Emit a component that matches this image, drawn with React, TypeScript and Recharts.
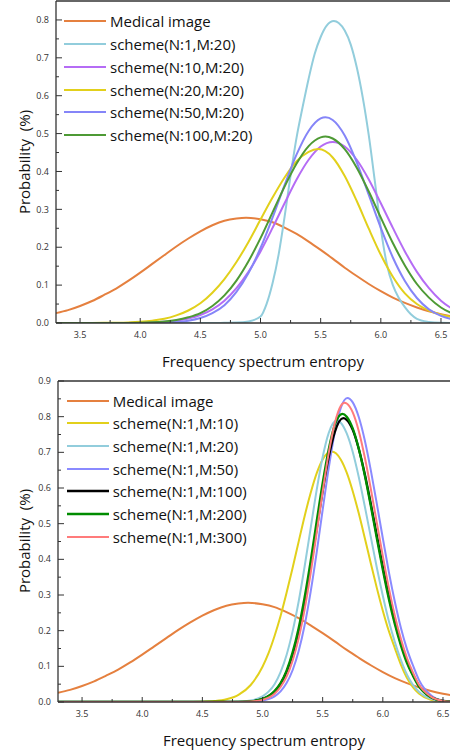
import { LineChart, Line, XAxis, YAxis, ReferenceLine } from 'recharts';

type Pt = [number, number];

const FONT = '"Open Sans", sans-serif';
const AXIS = '#333';

const xTicks = [3.5, 3.75, 4, 4.25, 4.5, 4.75, 5, 5.25, 5.5, 5.75, 6, 6.25, 6.5];
const topYTicks = [0, 0.05, 0.1, 0.15, 0.2, 0.25, 0.3, 0.35, 0.4, 0.45, 0.5, 0.55, 0.6, 0.65, 0.7, 0.75, 0.8];
const bottomYTicks = [0, 0.05, 0.1, 0.15, 0.2, 0.25, 0.3, 0.35, 0.4, 0.45, 0.5, 0.55, 0.6, 0.65, 0.7, 0.75, 0.8, 0.85, 0.9];

// medical image curve (same in both panels)
const medicalImage: Pt[] = [
  [3.3, 0.026], [3.4, 0.034], [3.5, 0.045], [3.6, 0.058], [3.7, 0.074], [3.8, 0.091], [3.9, 0.111],
  [4.0, 0.133], [4.1, 0.156], [4.2, 0.179], [4.3, 0.202], [4.4, 0.223], [4.5, 0.242], [4.6, 0.258],
  [4.7, 0.27], [4.8, 0.276], [4.88, 0.278], [5.0, 0.274], [5.1, 0.266], [5.2, 0.252], [5.3, 0.235],
  [5.4, 0.215], [5.5, 0.193], [5.6, 0.17], [5.7, 0.146], [5.8, 0.124], [5.9, 0.103], [6.0, 0.084],
  [6.1, 0.067], [6.2, 0.053], [6.3, 0.041], [6.4, 0.031], [6.5, 0.023], [6.6, 0.017],
];

// top panel: M fixed at 20
const n1m20: Pt[] = [
  [3.3, 0], [4.6, 0], [4.7, 0.0005], [4.8, 0.001], [4.9, 0.004], [5.0, 0.017], [5.05, 0.05], [5.1, 0.105],
  [5.15, 0.18], [5.2, 0.28], [5.25, 0.39], [5.3, 0.49], [5.35, 0.57], [5.4, 0.645], [5.45, 0.71],
  [5.5, 0.755], [5.55, 0.785], [5.61, 0.797], [5.65, 0.792], [5.7, 0.772], [5.75, 0.735], [5.8, 0.675],
  [5.85, 0.595], [5.9, 0.495], [5.95, 0.375], [6.0, 0.25], [6.05, 0.155], [6.1, 0.1], [6.15, 0.066],
  [6.2, 0.042], [6.25, 0.023], [6.3, 0.011], [6.4, 0.003], [6.5, 0.0005], [6.6, 0],
];
const n10m20: Pt[] = [
  [3.3, 0], [3.8, 0.0001], [3.9, 0.0003], [4.0, 0.0006], [4.1, 0.0014], [4.2, 0.003], [4.3, 0.006],
  [4.4, 0.012], [4.5, 0.021], [4.6, 0.036], [4.7, 0.059], [4.8, 0.092], [4.9, 0.135], [5.0, 0.189],
  [5.1, 0.251], [5.2, 0.316], [5.3, 0.379], [5.4, 0.431], [5.5, 0.466], [5.6, 0.478], [5.7, 0.466],
  [5.8, 0.431], [5.9, 0.379], [6.0, 0.316], [6.1, 0.251], [6.2, 0.189], [6.3, 0.135], [6.4, 0.092],
  [6.5, 0.059], [6.6, 0.036],
];
const n20m20: Pt[] = [
  [3.3, 0], [3.5, 0.0001], [3.6, 0.0002], [3.7, 0.0004], [3.8, 0.0008], [3.9, 0.0016], [4.0, 0.0032],
  [4.1, 0.0062], [4.2, 0.011], [4.3, 0.02], [4.4, 0.033], [4.5, 0.052], [4.6, 0.08], [4.7, 0.116],
  [4.8, 0.161], [4.9, 0.214], [5.0, 0.273], [5.1, 0.331], [5.2, 0.384], [5.3, 0.427], [5.4, 0.452],
  [5.48, 0.459], [5.6, 0.437], [5.7, 0.388], [5.8, 0.322], [5.9, 0.249], [6.0, 0.18], [6.1, 0.122],
  [6.2, 0.078], [6.3, 0.05], [6.4, 0.033], [6.5, 0.022], [6.6, 0.015],
];
const n50m20: Pt[] = [
  [3.3, 0], [4.0, 0.0001], [4.1, 0.0004], [4.2, 0.0011], [4.3, 0.0026], [4.4, 0.006], [4.5, 0.013],
  [4.6, 0.026], [4.7, 0.047], [4.8, 0.082], [4.9, 0.132], [5.0, 0.198], [5.1, 0.278], [5.2, 0.364],
  [5.3, 0.445], [5.4, 0.507], [5.5, 0.54], [5.54, 0.543], [5.6, 0.536], [5.7, 0.495], [5.8, 0.424],
  [5.9, 0.338], [6.0, 0.251], [6.1, 0.173], [6.2, 0.111], [6.3, 0.066], [6.4, 0.036], [6.5, 0.019],
  [6.6, 0.009],
];
const n100m20: Pt[] = [
  [3.3, 0], [3.8, 0.0001], [3.9, 0.0003], [4.0, 0.0008], [4.1, 0.0018], [4.2, 0.0038], [4.3, 0.0077],
  [4.4, 0.015], [4.5, 0.026], [4.6, 0.045], [4.7, 0.073], [4.8, 0.112], [4.9, 0.163], [5.0, 0.224],
  [5.1, 0.292], [5.2, 0.36], [5.3, 0.421], [5.4, 0.467], [5.5, 0.49], [5.54, 0.492], [5.6, 0.487],
  [5.7, 0.459], [5.8, 0.41], [5.9, 0.347], [6.0, 0.278], [6.1, 0.211], [6.2, 0.152], [6.3, 0.103],
  [6.4, 0.067], [6.5, 0.041], [6.6, 0.024],
];

// bottom panel: N fixed at 1
const n1m10: Pt[] = [
  [3.3, 0], [4.3, 0], [4.4, 0.0002], [4.5, 0.0007], [4.6, 0.0025], [4.7, 0.0075], [4.8, 0.02], [4.9, 0.047],
  [5.0, 0.099], [5.05, 0.137], [5.1, 0.185], [5.15, 0.241], [5.2, 0.306], [5.25, 0.376], [5.3, 0.449],
  [5.35, 0.521], [5.4, 0.586], [5.45, 0.641], [5.5, 0.68], [5.574, 0.702], [5.65, 0.68], [5.7, 0.643],
  [5.75, 0.591], [5.8, 0.529], [5.85, 0.46], [5.9, 0.389], [5.95, 0.32], [6.0, 0.256], [6.05, 0.199],
  [6.1, 0.151], [6.15, 0.105], [6.2, 0.068], [6.25, 0.042], [6.3, 0.024], [6.4, 0.006], [6.5, 0.001], [6.6, 0],
];
const n1m20b: Pt[] = [
  [3.3, 0], [4.6, 0], [4.7, 0.0001], [4.8, 0.0008], [4.9, 0.004], [5.0, 0.016], [5.05, 0.029], [5.1, 0.05],
  [5.15, 0.084], [5.2, 0.132], [5.25, 0.198], [5.3, 0.281], [5.35, 0.38], [5.4, 0.487], [5.45, 0.594],
  [5.5, 0.687], [5.55, 0.754], [5.616, 0.789], [5.65, 0.783], [5.7, 0.753], [5.75, 0.701], [5.8, 0.631],
  [5.85, 0.549], [5.9, 0.463], [5.95, 0.377], [6.0, 0.298], [6.05, 0.227], [6.1, 0.168], [6.15, 0.118],
  [6.2, 0.077], [6.25, 0.048], [6.3, 0.029], [6.4, 0.009], [6.5, 0.002], [6.6, 0],
];
const n1m50: Pt[] = [
  [3.3, 0], [4.7, 0], [4.8, 0.0001], [4.9, 0.0007], [5.0, 0.0037], [5.05, 0.008], [5.1, 0.016], [5.15, 0.03],
  [5.2, 0.053], [5.25, 0.089], [5.3, 0.142], [5.35, 0.215], [5.4, 0.309], [5.45, 0.419], [5.5, 0.539],
  [5.55, 0.655], [5.6, 0.755], [5.65, 0.824], [5.705, 0.852], [5.75, 0.84], [5.8, 0.799], [5.85, 0.734],
  [5.9, 0.65], [5.95, 0.556], [6.0, 0.459], [6.05, 0.365], [6.1, 0.281], [6.15, 0.208], [6.2, 0.149],
  [6.25, 0.103], [6.3, 0.062], [6.4, 0.019], [6.5, 0.004], [6.6, 0.001],
];
const n1m100: Pt[] = [
  [3.3, 0], [4.7, 0], [4.8, 0.0004], [4.9, 0.0019], [5.0, 0.0083], [5.05, 0.016], [5.1, 0.029], [5.15, 0.051],
  [5.2, 0.084], [5.25, 0.132], [5.3, 0.197], [5.35, 0.28], [5.4, 0.378], [5.45, 0.485], [5.5, 0.592],
  [5.55, 0.686], [5.6, 0.756], [5.671, 0.796], [5.7, 0.791], [5.75, 0.763], [5.8, 0.71], [5.85, 0.639],
  [5.9, 0.556], [5.95, 0.467], [6.0, 0.379], [6.05, 0.297], [6.1, 0.225], [6.15, 0.165], [6.2, 0.115],
  [6.25, 0.077], [6.3, 0.046], [6.4, 0.014], [6.5, 0.003], [6.6, 0],
];
const n1m200: Pt[] = [
  [3.3, 0], [4.6, 0], [4.7, 0.0001], [4.8, 0.0004], [4.9, 0.002], [5.0, 0.0086], [5.05, 0.017], [5.1, 0.031],
  [5.15, 0.053], [5.2, 0.088], [5.25, 0.139], [5.3, 0.207], [5.35, 0.294], [5.4, 0.395], [5.45, 0.506],
  [5.5, 0.614], [5.55, 0.708], [5.6, 0.776], [5.663, 0.808], [5.7, 0.8], [5.75, 0.767], [5.8, 0.71],
  [5.85, 0.636], [5.9, 0.55], [5.95, 0.459], [6.0, 0.371], [6.05, 0.289], [6.1, 0.218], [6.15, 0.159],
  [6.2, 0.11], [6.25, 0.074], [6.3, 0.044], [6.4, 0.013], [6.5, 0.003], [6.6, 0],
];
const n1m300: Pt[] = [
  [3.3, 0], [4.7, 0], [4.8, 0.0002], [4.9, 0.0013], [5.0, 0.006], [5.05, 0.012], [5.1, 0.023], [5.15, 0.042],
  [5.2, 0.071], [5.25, 0.116], [5.3, 0.178], [5.35, 0.26], [5.4, 0.361], [5.45, 0.474], [5.5, 0.59],
  [5.55, 0.697], [5.6, 0.781], [5.65, 0.83], [5.682, 0.839], [5.7, 0.837], [5.75, 0.812], [5.8, 0.76],
  [5.85, 0.686], [5.9, 0.598], [5.95, 0.503], [6.0, 0.409], [6.05, 0.32], [6.1, 0.242], [6.15, 0.177],
  [6.2, 0.124], [6.25, 0.083], [6.3, 0.049], [6.4, 0.015], [6.5, 0.003], [6.6, 0],
];

type Series = { name: string; color: string; width?: number; data: Pt[] };

const topSeries: Series[] = [
  { name: 'Medical image', color: '#E5803F', data: medicalImage },
  { name: 'scheme(N:1,M:20)', color: '#92CDDC', data: n1m20 },
  { name: 'scheme(N:10,M:20)', color: '#B56CF5', data: n10m20 },
  { name: 'scheme(N:20,M:20)', color: '#E2D01B', data: n20m20 },
  { name: 'scheme(N:50,M:20)', color: '#8585F8', data: n50m20 },
  { name: 'scheme(N:100,M:20)', color: '#4E9A35', data: n100m20 },
];

const bottomSeries: Series[] = [
  { name: 'Medical image', color: '#E5803F', data: medicalImage },
  { name: 'scheme(N:1,M:10)', color: '#E2D01B', data: n1m10 },
  { name: 'scheme(N:1,M:20)', color: '#92CDDC', data: n1m20b },
  { name: 'scheme(N:1,M:50)', color: '#8A8AFF', data: n1m50 },
  { name: 'scheme(N:1,M:100)', color: '#000000', width: 2.3, data: n1m100 },
  { name: 'scheme(N:1,M:200)', color: '#008C00', width: 2.3, data: n1m200 },
  { name: 'scheme(N:1,M:300)', color: '#FF7B7B', data: n1m300 },
];

const toPoints = (d: Pt[]) => d.map(([x, y]) => ({ x, y }));

function XTick(props: any) {
  const { x, y, payload } = props;
  const v = payload.value as number;
  const major = Math.abs(v * 2 - Math.round(v * 2)) < 1e-6;
  return (
    <g>
      <line x1={x} x2={x} y1={y} y2={y - (major ? 5 : 3)} stroke={AXIS} strokeWidth={1} />
      {major && (
        <text x={x} y={y + 14.5} textAnchor="middle" fontSize={9} fill="#333" fontFamily={FONT}>
          {v.toFixed(1)}
        </text>
      )}
    </g>
  );
}

function YTick(props: any) {
  const { x, y, payload } = props;
  const v = payload.value as number;
  const major = Math.abs(v * 10 - Math.round(v * 10)) < 1e-6;
  return (
    <g>
      <line x1={x} x2={x + (major ? 6 : 3)} y1={y} y2={y} stroke={AXIS} strokeWidth={1} />
      {major && (
        <text x={x - 7} y={y} dy="0.35em" textAnchor="end" fontSize={9} fill="#333" fontFamily={FONT}>
          {v.toFixed(1)}
        </text>
      )}
    </g>
  );
}

type PanelProps = {
  top: number;
  height: number;
  marginTop: number;
  marginRight: number;
  yAxisWidth: number;
  xAxisHeight: number;
  yMax: number;
  yTicks: number[];
  series: Series[];
  legendLeft: number;
  legendTop: number;
  rowHeight: number;
  xTitleX: number;
  xTitleY: number;
  yTitleY: number;
};

function Panel(p: PanelProps) {
  return (
    <div style={{ position: 'absolute', left: 0, top: p.top, width: 460, height: p.height }}>
      <LineChart
        width={460}
        height={p.height}
        margin={{ top: p.marginTop, right: p.marginRight, left: 0, bottom: 0 }}
      >
        <XAxis
          type="number"
          dataKey="x"
          domain={[3.3, 6.6]}
          ticks={xTicks}
          allowDataOverflow
          interval={0}
          height={p.xAxisHeight}
          tick={<XTick />}
          tickLine={false}
          tickSize={0}
          tickMargin={0}
          axisLine={{ stroke: AXIS, strokeWidth: 1.3 }}
        />
        <YAxis
          type="number"
          domain={[0, p.yMax]}
          ticks={p.yTicks}
          allowDataOverflow
          interval={0}
          width={p.yAxisWidth}
          tick={<YTick />}
          tickLine={false}
          tickSize={0}
          tickMargin={0}
          axisLine={{ stroke: AXIS, strokeWidth: 1.3 }}
        />
        <ReferenceLine y={p.yMax} stroke={AXIS} strokeWidth={1.3} ifOverflow="visible" />
        {p.series.map((s) => (
          <Line
            key={s.name}
            data={toPoints(s.data)}
            dataKey="y"
            type="monotone"
            stroke={s.color}
            strokeWidth={s.width ?? 2}
            dot={false}
            activeDot={false}
            isAnimationActive={false}
          />
        ))}
      </LineChart>

      <div style={{ position: 'absolute', left: p.legendLeft, top: p.legendTop, fontFamily: FONT, fontSize: 15, color: '#111' }}>
        {p.series.map((s) => (
          <div key={s.name} style={{ height: p.rowHeight, display: 'flex', alignItems: 'center', whiteSpace: 'nowrap' }}>
            <svg width={42} height={4} style={{ marginRight: 4 }}>
              <line x1={0} x2={42} y1={2} y2={2} stroke={s.color} strokeWidth={s.width ?? 2.2} />
            </svg>
            <span>{s.name}</span>
          </div>
        ))}
      </div>

      <div
        style={{
          position: 'absolute',
          left: p.xTitleX - 150,
          top: p.xTitleY - 11,
          width: 300,
          textAlign: 'center',
          fontFamily: FONT,
          fontSize: 15,
          lineHeight: '22px',
          color: '#111',
        }}
      >
        Frequency spectrum entropy
      </div>
      <div
        style={{
          position: 'absolute',
          left: 24 - 80,
          top: p.yTitleY - 11,
          width: 160,
          textAlign: 'center',
          fontFamily: FONT,
          fontSize: 15,
          lineHeight: '22px',
          color: '#111',
          whiteSpace: 'pre',
          transform: 'rotate(-90deg)',
        }}
      >
        {'Probability  (%)'}
      </div>
    </div>
  );
}

export default function App() {
  return (
    <div style={{ position: 'fixed', left: 0, top: 0, width: 450, height: 750, overflow: 'hidden', background: '#fff' }}>
      <Panel
        top={0}
        height={372}
        marginTop={1}
        marginRight={7}
        yAxisWidth={56}
        xAxisHeight={49}
        yMax={0.85}
        yTicks={topYTicks}
        series={topSeries}
        legendLeft={64}
        legendTop={9.6}
        rowHeight={22.85}
        xTitleX={263}
        xTitleY={361}
        yTitleY={162}
      />
      <Panel
        top={375}
        height={375}
        marginTop={6}
        marginRight={5}
        yAxisWidth={58}
        xAxisHeight={48}
        yMax={0.9}
        yTicks={bottomYTicks}
        series={bottomSeries}
        legendLeft={66.7}
        legendTop={14.4}
        rowHeight={22.67}
        xTitleX={264}
        xTitleY={365}
        yTitleY={166}
      />
    </div>
  );
}
